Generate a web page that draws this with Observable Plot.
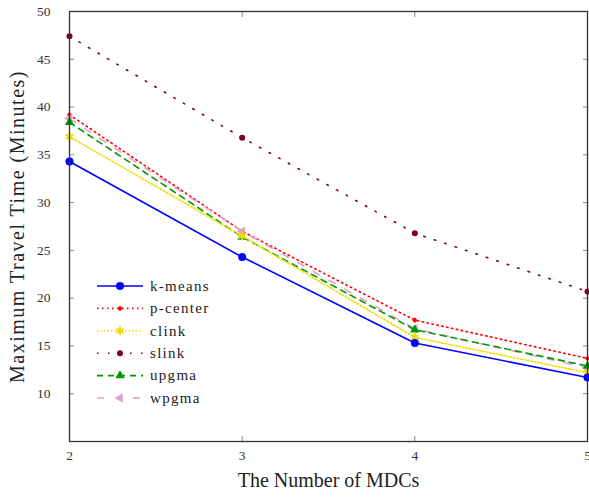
<!DOCTYPE html>
<html><head><meta charset="utf-8">
<script src="https://cdn.jsdelivr.net/npm/d3@7"></script>
<script src="https://cdn.jsdelivr.net/npm/@observablehq/plot@0.6"></script>
<style>
body{margin:0;background:#fff}
#wrap{position:relative;width:589px;height:500px;overflow:hidden}
#legend{position:absolute;left:0;top:0;pointer-events:none}
</style>
</head><body><div id="wrap"></div>
<script>
const mdcs = [2, 3, 4, 5];
const kmeans  = [34.3, 24.3, 15.3, 11.7];
const pcenter = [39.2, 27.0, 17.7, 13.7];
const clink   = [36.9, 26.5, 15.9, 12.2];
const slink   = [47.4, 36.8, 26.8, 20.7];
const upgma   = [38.4, 26.4, 16.7, 12.9];
const wpgma   = [38.8, 27.0, 16.8, 12.7];
const seriesNames = ["k-means", "p-center", "clink", "slink", "upgma", "wpgma"];
const yTicks = [10, 15, 20, 25, 30, 35, 40, 45, 50];
const xLabel = "The Number of MDCs";
const yLabel = "Maximum Travel Time (Minutes)";

const values = [kmeans, pcenter, clink, slink, upgma, wpgma];
const styles = {
  "k-means":  {stroke:"#0000ff", dash:null,      width:1.6, symbol:"circle",   r:4,   fill:"#0000ff", rotate:0},
  "p-center": {stroke:"#ff0000", dash:"1.5 3.5", width:1.6, symbol:"diamond2", r:2.5, fill:"#ff0000", rotate:0},
  "clink":    {stroke:"#f0dc00", dash:"1.5 2",   width:1.6, symbol:"asterisk", r:4,   fill:"#f0dc00", rotate:0},
  "slink":    {stroke:"#7a0026", dash:"1.5 9.5", width:1.6, symbol:"circle",   r:3,   fill:"#7a0026", rotate:0},
  "upgma":    {stroke:"#009900", dash:"6 5",     width:1.6, symbol:"triangle", r:3.5, fill:"#009900", rotate:0},
  "wpgma":    {stroke:"#e0a0c8", dash:"7 11",    width:1.6, symbol:"triangle", r:3.5, fill:"#e0a0c8", rotate:-90}
};
const rows = [];
seriesNames.forEach((s, i) => mdcs.forEach((m, j) => rows.push({series: s, x: m, y: values[i][j]})));

const font = "'Liberation Serif', 'DejaVu Serif', serif";
const drawOrder = ["slink", "p-center", "wpgma", "upgma", "clink", "k-means"];
const seriesMarks = [];
for (const s of drawOrder) {
  const st = styles[s];
  const d = rows.filter(r => r.series === s);
  seriesMarks.push(Plot.line(d, {x:"x", y:"y", stroke:st.stroke, strokeWidth:st.width, strokeDasharray:st.dash}));
  seriesMarks.push(Plot.dot(d, {x:"x", y:"y", symbol:()=>st.symbol, r:st.r, fill: st.symbol==="asterisk" ? "none" : st.fill, stroke: st.symbol==="asterisk" ? st.stroke : "none", strokeWidth:2, rotate:st.rotate}));
}

const tickColor = "#888";
const chart = Plot.plot({
  width: 589, height: 500,
  marginTop: 11, marginRight: 2, marginBottom: 59, marginLeft: 69,
  style: {fontFamily: font, background: "#fff", overflow: "visible"},
  x: {domain: [2, 5], label: null},
  y: {domain: [5, 50], label: null},
  symbol: {type: "identity"},
  marks: [
    Plot.axisY(yTicks, {anchor:"left", tickSize:-5, stroke:tickColor, tickFormat:()=>"", label:null}),
    Plot.axisY(yTicks, {anchor:"right", tickSize:-5, stroke:tickColor, tickFormat:()=>"", label:null}),
    Plot.axisX(mdcs, {anchor:"bottom", tickSize:-5, stroke:tickColor, tickFormat:()=>"", label:null}),
    Plot.axisX(mdcs, {anchor:"top", tickSize:-5, stroke:tickColor, tickFormat:()=>"", label:null}),
    Plot.axisY(yTicks, {anchor:"left", tickSize:0, tickPadding:19, fontSize:13.5, fill:"#333", label:null}),
    Plot.axisX(mdcs, {anchor:"bottom", tickSize:0, tickPadding:9, fontSize:13.5, fill:"#333", tickFormat:d3.format("d"), label:null}),
    ...seriesMarks,
    Plot.frame({stroke:"#333", strokeWidth:1.3}),
    Plot.text([xLabel], {frameAnchor:"bottom", dy:45, text:d=>d, fontSize:20, fill:"#222"}),
    Plot.text([yLabel], {frameAnchor:"left", dx:-52, rotate:-90, textAnchor:"middle", text:d=>d, fontSize:20, fill:"#222"})
  ]
});
const wrap = document.getElementById("wrap");
wrap.appendChild(chart);
d3.select(chart).selectAll("text").filter(function(){ return this.textContent === yLabel; })
  .attr("letter-spacing", "1.5px");

// legend
const lg = d3.select(wrap).append("svg").attr("id","legend").attr("width",589).attr("height",500);
const ly0 = 286, ldy = 22.4;
seriesNames.forEach((s, i) => {
  const st = styles[s];
  const y = ly0 + i * ldy;
  const g = lg.append("g");
  g.append("line").attr("x1",97).attr("x2",143).attr("y1",y).attr("y2",y)
    .attr("stroke",st.stroke).attr("stroke-width",st.width).attr("stroke-dasharray",st.dash);
  const sym = {circle:d3.symbolCircle, diamond2:d3.symbolDiamond2, asterisk:d3.symbolAsterisk, triangle:d3.symbolTriangle}[st.symbol];
  const area = st.r * st.r * Math.PI;
  g.append("path").attr("d", d3.symbol(sym, area)()).attr("transform",`translate(120,${y}) rotate(${st.rotate})`)
    .attr("fill", st.symbol==="asterisk" ? "none" : st.fill).attr("stroke", st.symbol==="asterisk" ? st.stroke : "none").attr("stroke-width",2);
  g.append("text").attr("x",150).attr("y",y).attr("dy","0.32em").attr("font-family",font).attr("font-size",15)
    .attr("letter-spacing","1.3px").attr("fill","#222").text(s);
});
</script>
</body></html>
